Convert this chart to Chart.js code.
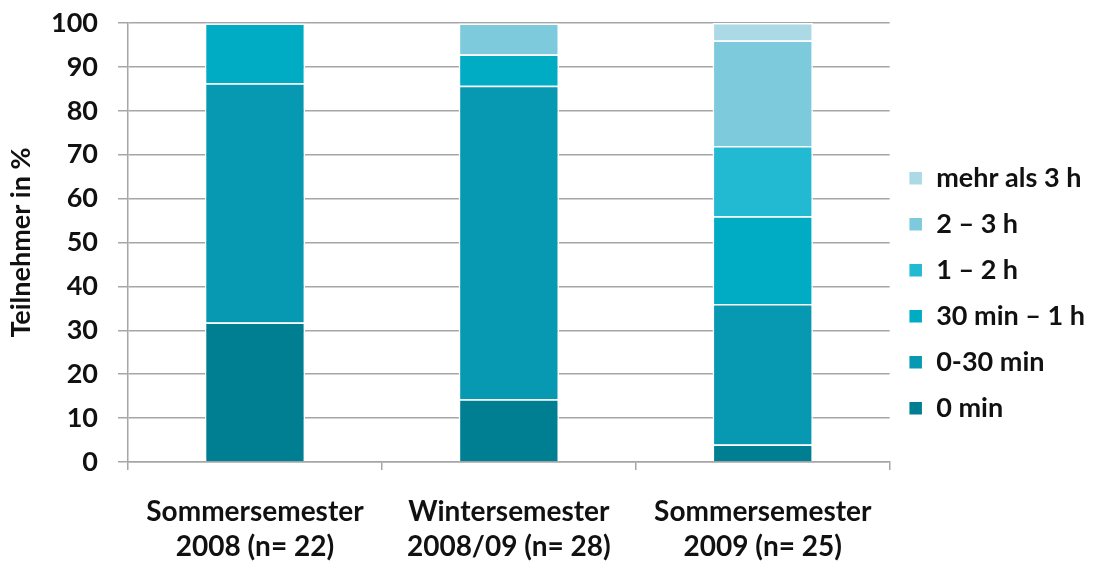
<!DOCTYPE html>
<html>
<head>
<meta charset="utf-8">
<script src="https://cdn.jsdelivr.net/npm/chart.js@4.4.0/dist/chart.umd.min.js"></script>
<style>
  html, body { margin: 0; padding: 0; background: #fff; }
  #wrap { width: 1102px; height: 565px; }
</style>
</head>
<body>
<div id="wrap"><canvas id="myChart" width="1102" height="565"></canvas></div>
<script>
// Semester groups (x axis)
var semesters = [
  ['Sommersemester', '2008 (n= 22)'],
  ['Wintersemester', '2008/09 (n= 28)'],
  ['Sommersemester', '2009 (n= 25)']
];

// share of participants per time bracket, in %
var min0      = [31.8, 14.3, 4];
var min0to30  = [54.5, 71.4, 32];
var min30to1h = [13.6, 7.1, 20];
var h1to2     = [0, 0, 16];
var h2to3     = [0, 7.1, 24];
var hOver3    = [0, 0, 4];

var yTicks = [0, 10, 20, 30, 40, 50, 60, 70, 80, 90, 100];

var seriesNames = ['0 min', '0-30 min', '30 min \u2013 1 h', '1 \u2013 2 h', '2 \u2013 3 h', 'mehr als 3 h'];
var seriesData = [min0, min0to30, min30to1h, h1to2, h2to3, hOver3];
var seriesColors = ['#007f93', '#0899b2', '#00abc4', '#22b9d2', '#7ccadc', '#abd9e6'];

var fontFam = 'Lato, "Open Sans", sans-serif';
var gridGrey = '#a6a6a6';

var datasets = seriesNames.map(function (name, i) {
  return {
    label: name,
    data: seriesData[i],
    backgroundColor: seriesColors[i],
    borderColor: '#ffffff',
    borderWidth: 1.5,
    borderSkipped: 'bottom',
    barPercentage: 0.79,
    categoryPercentage: 0.5
  };
});

var ctx = document.getElementById('myChart').getContext('2d');
var chart = new Chart(ctx, {
  type: 'bar',
  data: { labels: semesters, datasets: datasets },
  options: {
    responsive: false,
    animation: false,
    layout: { padding: { top: 0, left: 5, right: 7, bottom: 0 } },
    plugins: {
      tooltip: { enabled: false },
      legend: {
        position: 'right',
        reverse: true,
        align: 'center',
        // empty title just nudges the legend block down a bit
        title: {
          display: true,
          text: '',
          padding: 0,
          font: { family: fontFam, size: 18, lineHeight: 1.2 }
        },
        labels: {
          color: '#111',
          font: { family: fontFam, size: 27, weight: 'bold' },
          boxWidth: 14,
          boxHeight: 14,
          padding: 19
        }
      }
    },
    scales: {
      x: {
        stacked: true,
        afterFit: function (axis) { axis.height = 103; },
        grid: {
          offset: true,
          drawOnChartArea: false,
          drawTicks: true,
          tickLength: 8,
          color: gridGrey,
          lineWidth: 1.5
        },
        border: { color: gridGrey, width: 1.5 },
        ticks: {
          color: '#111',
          padding: 24,
          maxRotation: 0,
          font: { family: fontFam, size: 28, weight: 'bold', lineHeight: 1.25 }
        }
      },
      y: {
        stacked: true,
        min: 0,
        max: 100,
        afterFit: function (axis) {
          axis.width = 123;
          axis.paddingTop = 23;
          axis.paddingBottom = 14;
        },
        afterBuildTicks: function (axis) {
          axis.ticks = yTicks.map(function (v) { return { value: v }; });
        },
        grid: {
          color: gridGrey,
          lineWidth: 1.5,
          tickLength: 10
        },
        border: { color: gridGrey, width: 1.5 },
        ticks: {
          color: '#111',
          padding: 20,
          font: { family: fontFam, size: 27, weight: 'bold', lineHeight: 1 }
        },
        title: {
          display: true,
          text: 'Teilnehmer in %',
          color: '#111',
          padding: 0,
          font: { family: fontFam, size: 27, weight: 'bold' }
        }
      }
    }
  }
});
</script>
</body>
</html>
